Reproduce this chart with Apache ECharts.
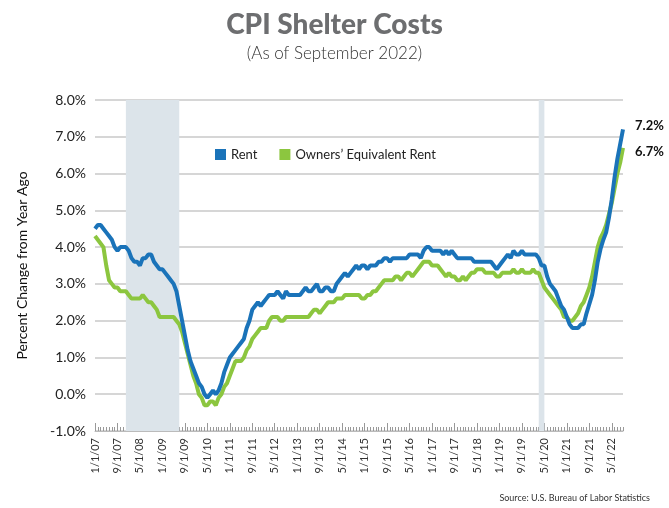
<!DOCTYPE html>
<html>
<head>
<meta charset="utf-8">
<script src="https://cdn.jsdelivr.net/npm/echarts@6/dist/echarts.min.js"></script>
<style>
html,body{margin:0;padding:0;background:#fff;}
#chart{width:669px;height:508px;}
</style>
</head>
<body>
<div id="chart"></div>
<script>
// Monthly categories Jan 2007 .. Sep 2022
const startYear = 2007, endYear = 2022, endMonth = 9;
const categories = [];
for (let y = startYear; y <= endYear; y++) {
  for (let m = 1; m <= 12; m++) {
    if (y === endYear && m > endMonth) break;
    categories.push(m + '/1/' + String(y).slice(2));
  }
}

const rent = [
  4.5,4.6,4.6,4.5,4.4,4.3,4.2,4.0,3.9,4.0,4.0,4.0,
  3.9,3.7,3.6,3.6,3.5,3.7,3.7,3.8,3.8,3.6,3.5,3.4,
  3.4,3.3,3.2,3.1,3.0,2.8,2.4,2.0,1.6,1.2,0.9,0.7,
  0.5,0.3,0.2,0.0,-0.1,0.0,0.1,0.0,0.1,0.3,0.6,0.8,
  1.0,1.1,1.2,1.3,1.4,1.5,1.8,2.0,2.3,2.4,2.5,2.4,
  2.5,2.6,2.7,2.7,2.7,2.8,2.7,2.6,2.8,2.7,2.7,2.7,
  2.7,2.7,2.8,2.9,2.8,2.8,2.9,3.0,2.8,2.8,2.9,2.9,
  2.8,2.8,3.0,3.1,3.2,3.3,3.2,3.3,3.4,3.5,3.4,3.5,
  3.5,3.4,3.5,3.5,3.5,3.6,3.6,3.7,3.7,3.6,3.7,3.7,
  3.7,3.7,3.7,3.7,3.8,3.8,3.8,3.8,3.7,3.9,4.0,4.0,
  3.9,3.9,3.9,3.9,3.8,3.9,3.8,3.9,3.8,3.7,3.7,3.7,
  3.7,3.7,3.7,3.6,3.6,3.6,3.6,3.6,3.6,3.6,3.5,3.4,
  3.5,3.6,3.7,3.8,3.7,3.9,3.8,3.8,3.9,3.8,3.8,3.8,
  3.8,3.8,3.7,3.5,3.5,3.2,3.0,2.9,2.8,2.6,2.4,2.3,
  2.1,1.9,1.8,1.8,1.8,1.9,1.9,2.2,2.45,2.7,3.1,3.6,
  3.95,4.2,4.4,4.8,5.3,5.9,6.4,6.8,7.2
];

const oer = [
  4.3,4.2,4.1,4.0,3.5,3.1,3.0,2.9,2.9,2.8,2.8,2.8,
  2.7,2.6,2.6,2.6,2.6,2.7,2.6,2.5,2.5,2.4,2.3,2.1,
  2.1,2.1,2.1,2.1,2.1,2.0,1.9,1.7,1.4,1.1,0.8,0.5,
  0.3,0.0,-0.1,-0.3,-0.3,-0.2,-0.2,-0.3,-0.1,0.0,0.2,0.3,
  0.5,0.7,0.9,0.9,0.9,1.0,1.2,1.3,1.5,1.6,1.7,1.8,
  1.8,1.8,2.0,2.1,2.1,2.1,2.0,2.0,2.1,2.1,2.1,2.1,
  2.1,2.1,2.1,2.1,2.1,2.2,2.3,2.3,2.2,2.3,2.4,2.5,
  2.5,2.5,2.6,2.6,2.6,2.7,2.7,2.7,2.7,2.7,2.7,2.6,
  2.6,2.7,2.7,2.8,2.8,2.9,3.0,3.1,3.1,3.1,3.1,3.2,
  3.2,3.1,3.2,3.3,3.3,3.2,3.3,3.4,3.5,3.6,3.6,3.6,
  3.5,3.5,3.5,3.4,3.3,3.2,3.3,3.2,3.2,3.1,3.1,3.2,
  3.1,3.2,3.3,3.3,3.4,3.4,3.4,3.3,3.3,3.3,3.3,3.2,
  3.2,3.3,3.3,3.3,3.3,3.4,3.3,3.3,3.4,3.3,3.3,3.3,
  3.4,3.3,3.3,3.1,2.9,2.8,2.7,2.6,2.5,2.4,2.3,2.1,
  2.1,2.0,2.0,2.1,2.2,2.4,2.5,2.7,2.9,3.2,3.6,4.0,
  4.25,4.4,4.6,4.9,5.2,5.6,6.0,6.3,6.7
];

const yTicks = { min: -1, max: 8, interval: 1 };
const recessions = [['12/1/07', '7/1/09'], ['3/1/20', '5/1/20']];

const chart = echarts.init(document.getElementById('chart'));
const FONT = 'Lato, "Open Sans", sans-serif';

chart.setOption({
  animation: false,
  backgroundColor: '#fff',
  title: [
    { text: 'CPI Shelter Costs', left: 'center', top: 6,
      textStyle: { fontFamily: FONT, fontSize: 28, fontWeight: 900, color: '#6d6e70' } },
    { text: '(As of September 2022)', left: 'center', top: 40,
      textStyle: { fontFamily: FONT, fontSize: 17, fontWeight: 300, color: '#333' } },
    { text: 'Source: U.S. Bureau of Labor Statistics', right: 14, top: 489,
      textStyle: { fontFamily: FONT, fontSize: 9, fontWeight: 'normal', color: '#333' } }
  ],
  legend: {
    left: 210, top: 143, itemGap: 22, itemWidth: 11, itemHeight: 11,
    icon: 'rect',
    textStyle: { fontFamily: FONT, fontSize: 13, color: '#222' },
    data: ['Rent', 'Owners\u2019 Equivalent Rent']
  },
  grid: { left: 95, right: 46, top: 100, bottom: 77 },
  xAxis: [
    {
      type: 'category', data: categories, boundaryGap: false,
      axisLine: { show: true, onZero: false, lineStyle: { color: '#bbb', width: 1 } },
      axisTick: { show: true, inside: true, interval: 0, length: 4, lineStyle: { color: '#999' } },
      axisLabel: { interval: 7, rotate: 90, fontFamily: FONT, fontSize: 11, color: '#333', margin: 7 },
      splitLine: { show: false }
    },
    {
      type: 'category', data: categories, boundaryGap: false, position: 'bottom',
      axisLine: { show: false, onZero: false },
      axisTick: { show: true, inside: true, interval: 7, length: 8, lineStyle: { color: '#999' } },
      axisLabel: { show: false },
      splitLine: { show: false }
    }
  ],
  yAxis: {
    type: 'value', min: yTicks.min, max: yTicks.max, interval: yTicks.interval,
    name: 'Percent Change from Year Ago', nameLocation: 'middle', nameGap: 66,
    nameTextStyle: { fontFamily: FONT, fontSize: 14, color: '#111' },
    axisLine: { show: false }, axisTick: { show: false },
    axisLabel: { fontFamily: FONT, fontSize: 14, color: '#222', margin: 9,
      formatter: v => v.toFixed(1) + '%' },
    splitLine: { lineStyle: { color: '#c9c9c9', width: 1.5 } }
  },
  series: [
    {
      name: 'Rent', type: 'line', data: rent, symbol: 'none', z: 4,
      lineStyle: { color: '#1a73b9', width: 4 }, itemStyle: { color: '#1a73b9' },
      endLabel: { show: true, formatter: p => p.value.toFixed(1) + '%', offset: [4, -4],
        fontFamily: FONT, fontSize: 13, fontWeight: 'bold', color: '#111' },
      markArea: {
        silent: true,
        itemStyle: { color: '#dce4ea' },
        data: recessions.map(r => [{ xAxis: r[0] }, { xAxis: r[1] }])
      }
    },
    {
      name: 'Owners\u2019 Equivalent Rent', type: 'line', data: oer, symbol: 'none', z: 3,
      lineStyle: { color: '#8cc63f', width: 4 }, itemStyle: { color: '#8cc63f' },
      endLabel: { show: true, formatter: p => p.value.toFixed(1) + '%', offset: [4, 4],
        fontFamily: FONT, fontSize: 13, fontWeight: 'bold', color: '#111' }
    }
  ]
});
</script>
</body>
</html>
